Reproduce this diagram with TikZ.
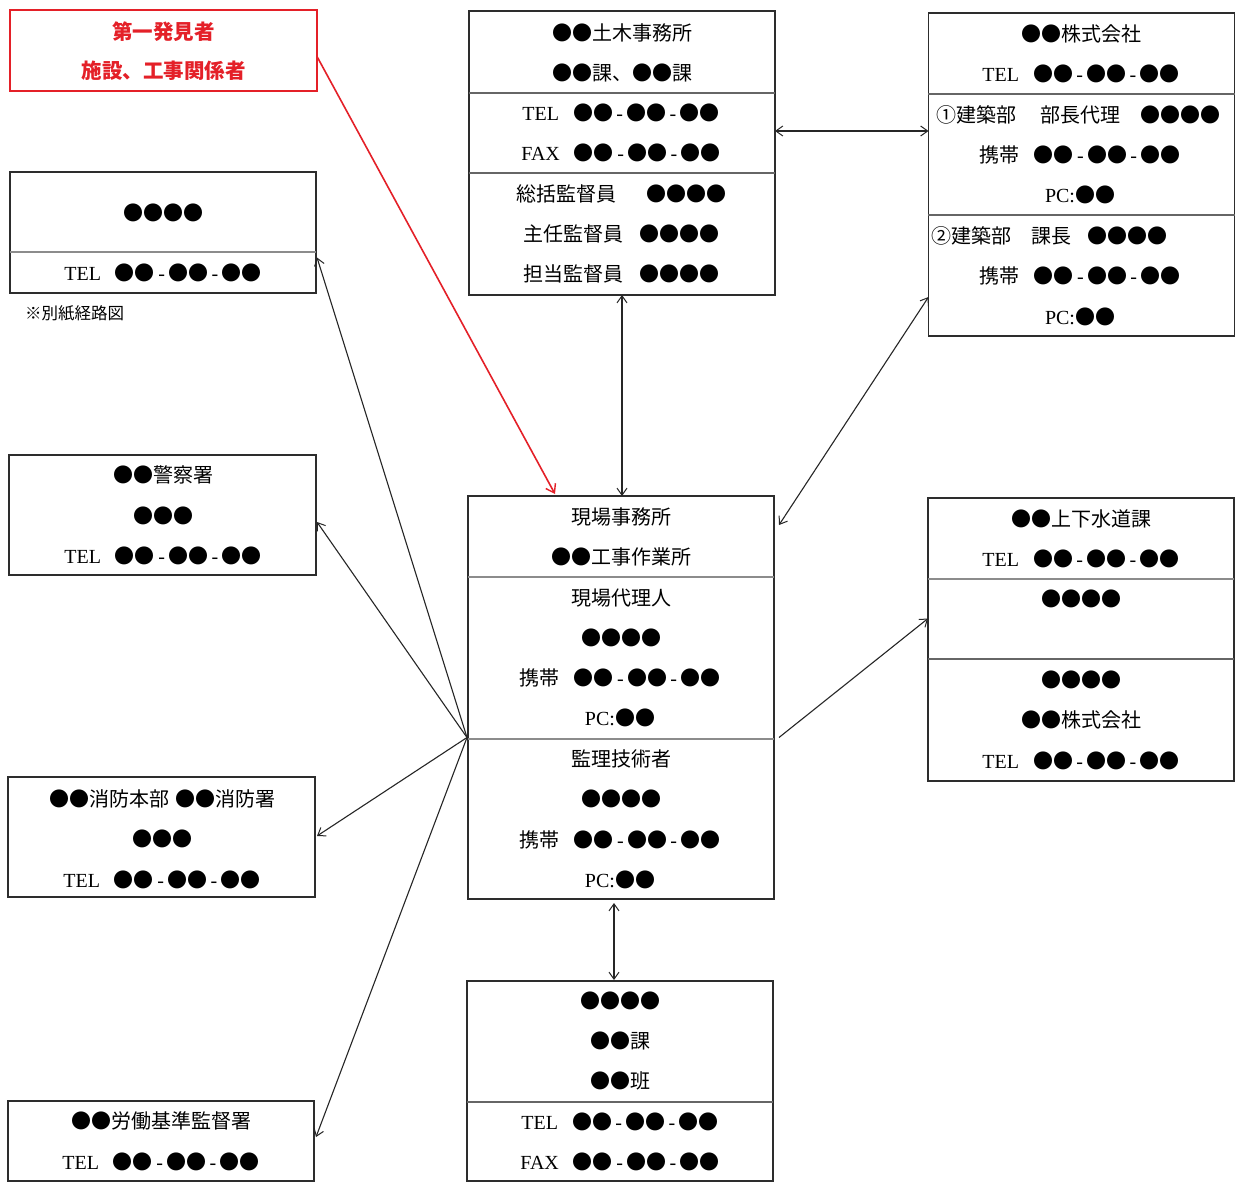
\documentclass[tikz,border=0pt]{standalone}
\usepackage{fontspec}
\setmainfont{Liberation Serif}
\newfontfamily\jp{Noto Sans CJK JP}
\usetikzlibrary{arrows.meta}
\newcommand\lat[1]{{\rmfamily #1}}
\newcommand\telno{●●\lat{\,-\,}●●\lat{\,-\,}●●}
\definecolor{alertred}{RGB}{228,32,40}
\definecolor{boxline}{RGB}{45,45,45}
\begin{document}
\begin{tikzpicture}[x=1pt,y=-1pt,
  box/.style={draw=boxline,line width=1.8pt,inner sep=0pt,outer sep=0pt},
  redbox/.style={draw=alertred,line width=2.8pt,inner sep=0pt,outer sep=0pt},
  txt/.style={inner sep=0pt,font=\jp\fontsize{20}{24}\selectfont},
  redtxt/.style={txt,text=alertred,font=\jp\bfseries\fontsize{20.5}{24}\selectfont},
  note/.style={inner sep=0pt,anchor=west,font=\jp\fontsize{16.5}{18}\selectfont},
  lightdiv/.style={draw=black!45,line width=2.2pt},
  darkdiv/.style={draw=black!60,line width=1.2pt},
  tip/.tip={Straight Barb[length=7pt,width=10pt,line width=1pt]},
  conn/.style={draw=black!85,line width=1.1pt,-tip},
  dconn/.style={draw=black!85,line width=1.1pt,tip-tip},
  redconn/.style={draw=alertred,line width=1.6pt,-{Straight Barb[length=8pt,width=11pt,line width=1.4pt]}}
]
\useasboundingbox[fill=white] (0,0) rectangle (1236,1183);

% ---------- boxes ----------
\node[redbox,minimum width=307pt,minimum height=81pt] (R) at (163.5,50.5) {};
\node[box,minimum width=306pt,minimum height=121pt] (A) at (163,232.5) {};
\node[box,minimum width=307pt,minimum height=120pt] (B) at (162.5,515) {};
\node[box,minimum width=307pt,minimum height=120pt] (C) at (161.5,837) {};
\node[box,minimum width=306pt,minimum height=80pt] (D) at (161,1141) {};
\node[box,minimum width=306pt,minimum height=284pt] (T) at (622,153) {};
\node[box,minimum width=306pt,minimum height=323pt] (K) at (1081.5,174.5) {};
\node[box,minimum width=306pt,minimum height=403pt] (S) at (621,697.5) {};
\node[box,minimum width=306pt,minimum height=283pt] (W) at (1081,639.5) {};
\node[box,minimum width=306pt,minimum height=200pt] (U) at (620,1081) {};

% ---------- dividers ----------
\draw[lightdiv] (10,252) -- (316,252);
\draw[darkdiv] (469,93) -- (775,93);
\draw[darkdiv] (469,173) -- (775,173);
\draw[darkdiv] (928,94) -- (1235,94);
\draw[darkdiv] (928,215) -- (1235,215);
\draw[lightdiv] (468,577) -- (774,577);
\draw[lightdiv] (468,739) -- (774,739);
\draw[lightdiv] (928,579) -- (1234,579);
\draw[darkdiv] (928,659) -- (1234,659);
\draw[darkdiv] (467,1102) -- (773,1102);

% ---------- texts ----------
\node[redtxt] (r1) at (163.5,32) {第一発見者};
\node[redtxt] (r2) at (163.5,71) {施設、工事関係者};

\node[txt] (a1) at (163,213) {●●●●};
\node[txt] (a2) at (163,273) {\lat{TEL}\hspace{14pt}\telno};
\node[note] (n1) at (25,313) {※別紙経路図};

\node[txt] (b1) at (163,475) {●●警察署};
\node[txt] (b2) at (163,516) {●●●};
\node[txt] (b3) at (163,556) {\lat{TEL}\hspace{14pt}\telno};

\node[txt] (c1) at (162,799) {●●消防本部\hspace{6pt}●●消防署};
\node[txt] (c2) at (162,839) {●●●};
\node[txt] (c3) at (162,880) {\lat{TEL}\hspace{14pt}\telno};

\node[txt] (d1) at (161,1121) {●●労働基準監督署};
\node[txt] (d2) at (161,1162) {\lat{TEL}\hspace{14pt}\telno};

\node[txt] (t1) at (622,33) {●●土木事務所};
\node[txt] (t2) at (622,73) {●●課、●●課};
\node[txt] (t3) at (621,113) {\lat{TEL}\hspace{14pt}\telno};
\node[txt] (t4) at (621,153) {\lat{FAX}\hspace{14pt}\telno};
\node[txt] (t5) at (621,194) {総括監督員\hspace{30pt}●●●●};
\node[txt] (t6) at (621,234) {主任監督員\hspace{16pt}●●●●};
\node[txt] (t7) at (621,274) {担当監督員\hspace{16pt}●●●●};

\node[txt] (k1) at (1081,34) {●●株式会社};
\node[txt] (k2) at (1081,74) {\lat{TEL}\hspace{14pt}\telno};
\node[txt] (k3) at (1078,115) {①建築部\hspace{24pt}部長代理\hspace{20pt}●●●●};
\node[txt] (k4) at (1080,155) {携帯\hspace{14pt}\telno};
\node[txt] (k5) at (1080,195) {\lat{PC:}●●};
\node[txt] (k6) at (1049,236) {②建築部\hspace{20pt}課長\hspace{16pt}●●●●};
\node[txt] (k7) at (1080,276) {携帯\hspace{14pt}\telno};
\node[txt] (k8) at (1080,317) {\lat{PC:}●●};

\node[txt] (s1) at (621,517) {現場事務所};
\node[txt] (s2) at (621,557) {●●工事作業所};
\node[txt] (s3) at (621,598) {現場代理人};
\node[txt] (s4) at (621,638) {●●●●};
\node[txt] (s5) at (620,678) {携帯\hspace{14pt}\telno};
\node[txt] (s6) at (620,718) {\lat{PC:}●●};
\node[txt] (s7) at (621,759) {監理技術者};
\node[txt] (s8) at (621,799) {●●●●};
\node[txt] (s9) at (620,840) {携帯\hspace{14pt}\telno};
\node[txt] (s10) at (620,880) {\lat{PC:}●●};

\node[txt] (w1) at (1081,519) {●●上下水道課};
\node[txt] (w2) at (1081,559) {\lat{TEL}\hspace{14pt}\telno};
\node[txt] (w3) at (1081,599) {●●●●};
\node[txt] (w4) at (1081,680) {●●●●};
\node[txt] (w5) at (1081,720) {●●株式会社};
\node[txt] (w6) at (1081,761) {\lat{TEL}\hspace{14pt}\telno};

\node[txt] (u1) at (620,1001) {●●●●};
\node[txt] (u2) at (620,1041) {●●課};
\node[txt] (u3) at (620,1081) {●●班};
\node[txt] (u4) at (620,1122) {\lat{TEL}\hspace{14pt}\telno};
\node[txt] (u5) at (620,1162) {\lat{FAX}\hspace{14pt}\telno};

% ---------- connector end points ----------
\coordinate (rs) at ([yshift=-6pt]R.east);
\coordinate (se) at ([xshift=-66pt,yshift=2pt]S.north);
\coordinate (tk) at ([yshift=22pt]T.east);
\coordinate (ts) at (T.south);
\coordinate (s1e) at ([xshift=5pt,yshift=-29pt]S.north east);
\coordinate (k1w) at ([yshift=39pt]K.south west);
\coordinate (s2e) at ([xshift=5pt,yshift=-40pt]S.east);
\coordinate (w1w) at ([yshift=21pt]W.west);
\coordinate (hub) at ([xshift=-1pt,yshift=-40pt]S.west);
\coordinate (ae) at ([xshift=1pt,yshift=-25pt]A.east);
\coordinate (be) at ([xshift=1pt,yshift=-7pt]B.east);
\coordinate (ce) at ([xshift=2pt,yshift=1pt]C.east);
\coordinate (de) at ([xshift=2pt,yshift=4pt]D.east);
\coordinate (ss) at ([xshift=-7pt,yshift=-4pt]S.south);
\coordinate (us) at ([xshift=-6pt,yshift=1pt]U.north);

% ---------- connectors ----------
\draw[redconn] (rs) -- (se);
\draw[dconn] (tk) -- (tk -| K.west);
\draw[dconn] (ts) -- (ts |- S.north);
\draw[dconn] (s1e) -- (k1w);
\draw[conn] (s2e) -- (w1w);
\draw[conn] (hub) -- (ae);
\draw[conn] (hub) -- (be);
\draw[conn] (hub) -- (ce);
\draw[conn] (hub) -- (de);
\draw[dconn] (ss) -- (us);
\end{tikzpicture}
\end{document}
